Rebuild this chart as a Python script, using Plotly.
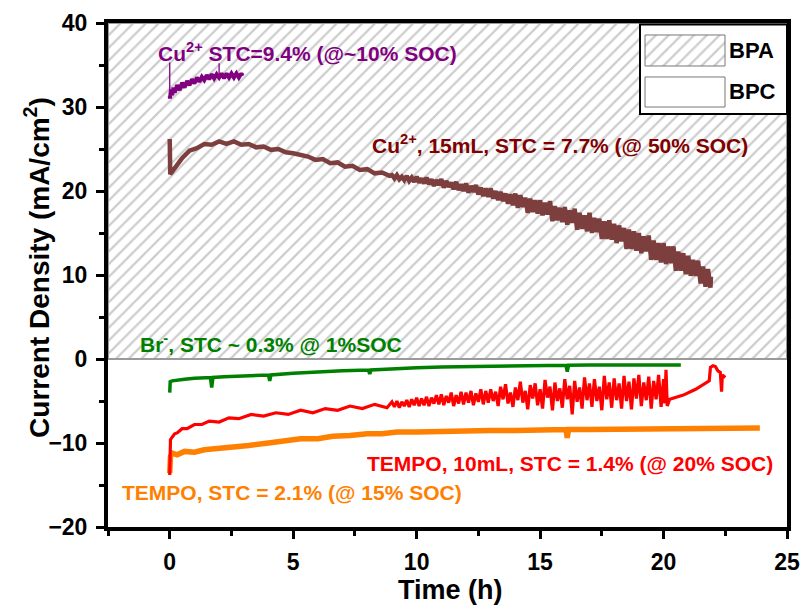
import plotly.graph_objects as go

# ---------------- data ----------------
cu_small_t = [0, 0.01, 0.05, 0.1, 0.15, 0.2, 0.3, 0.4, 0.5, 0.6, 0.7, 0.8, 0.9, 1.0, 1.1, 1.2,
              1.3, 1.4, 1.5, 1.6, 1.7, 1.8, 1.9, 2.0, 2.1, 2.2, 2.3, 2.4, 2.5, 2.6, 2.7, 2.8,
              2.9, 2.95]
cu_small_v = [31.3, 31.0, 32.1, 31.4, 32.3, 31.7, 32.6, 32.0, 32.9, 32.3, 33.1, 32.6, 33.3,
              32.8, 33.5, 33.0, 33.6, 33.2, 33.8, 33.3, 33.9, 33.4, 33.9, 33.5, 34.0, 33.4,
              34.0, 33.5, 34.0, 33.5, 34.0, 33.5, 34.0, 33.7]
# thin leader marks above the small Cu2+ curve: (time, bottom, top)
cu_small_marks_t = [0.0, 2.0]
cu_small_marks_lo = [31.6, 33.6]
cu_small_marks_hi = [35.3, 35.2]

cu15_t = [0, 0.02, 0.1, 0.3, 0.5, 0.8, 1.1, 1.4, 1.7, 2.0, 2.3, 2.6, 2.9, 3.2, 3.5, 3.8, 4.1,
          4.4, 4.7, 5.0, 5.3, 5.6, 5.9, 6.2, 6.5, 6.8, 7.1, 7.4, 7.7, 8.0, 8.3, 8.6, 8.9,
          9.0, 9.1, 9.2, 9.3, 9.4, 9.5, 9.6, 9.7, 9.8, 9.9,
          10.0, 10.1, 10.2, 10.3, 10.4, 10.5, 10.6, 10.7, 10.8, 10.9,
          11.0, 11.1, 11.2, 11.3, 11.4, 11.5, 11.6, 11.7, 11.8, 11.9,
          12.0, 12.1, 12.2, 12.3, 12.4, 12.5, 12.6, 12.7, 12.8, 12.9,
          13.0, 13.1, 13.2, 13.3, 13.4, 13.5, 13.6, 13.7, 13.8, 13.9,
          14.0, 14.1, 14.2, 14.3, 14.4, 14.5, 14.6, 14.7, 14.8, 14.9,
          15.0, 15.1, 15.2, 15.3, 15.4, 15.5, 15.6, 15.7, 15.8, 15.9,
          16.0, 16.1, 16.2, 16.3, 16.4, 16.5, 16.6, 16.7, 16.8, 16.9,
          17.0, 17.1, 17.2, 17.3, 17.4, 17.5, 17.6, 17.7, 17.8, 17.9,
          18.0, 18.1, 18.2, 18.3, 18.4, 18.5, 18.6, 18.7, 18.8, 18.9,
          19.0, 19.1, 19.2, 19.3, 19.4, 19.5, 19.6, 19.7, 19.8, 19.9,
          20.0, 20.1, 20.2, 20.3, 20.4, 20.5, 20.6, 20.7, 20.8, 20.9,
          21.0, 21.1, 21.2, 21.3, 21.4, 21.5, 21.6, 21.7, 21.8, 21.9, 21.92]
cu15_v = [26.2, 22.0, 22.3, 23.2, 23.9, 24.8, 25.1, 25.6, 25.5, 25.9, 25.6, 25.9, 25.5, 25.6,
          25.2, 25.3, 24.9, 25.0, 24.6, 24.5, 24.3, 24.1, 23.7, 23.8, 23.3, 23.4, 22.9, 23.0,
          22.5, 22.6, 22.1, 22.2, 21.8,
          21.9, 21.5, 21.9, 21.4, 21.7, 21.3, 21.8, 21.2, 21.6, 21.1,
          21.7, 21.0, 21.5, 20.9, 21.6, 20.8, 21.4, 20.6, 21.3, 20.7,
          21.4, 20.4, 21.2, 20.5, 21.0, 20.2, 21.1, 20.1, 20.8, 20.0,
          20.9, 19.8, 20.6, 19.9, 20.7, 19.6, 20.4, 19.4, 20.3, 19.3,
          20.3, 19.1, 20.0, 18.9, 19.9, 18.8, 19.7, 18.5, 19.6, 18.3,
          19.7, 18.0, 19.5, 18.1, 19.2, 17.4, 19.1, 17.5, 18.9, 17.3,
          18.9, 17.1, 18.6, 17.2, 18.8, 16.4, 18.2, 16.5, 18.0, 16.3,
          18.1, 16.0, 17.7, 16.2, 17.9, 15.4, 17.4, 15.5, 17.1, 15.2,
          17.4, 15.0, 16.8, 15.1, 16.7, 14.3, 16.4, 14.3, 16.5, 14.2,
          16.1, 13.8, 15.9, 14.0, 15.6, 13.1, 15.4, 13.1, 15.2, 12.9,
          15.0, 12.6, 14.6, 12.8, 14.7, 11.8, 14.1, 11.8, 13.8, 11.5,
          13.8, 11.3, 13.4, 11.4, 13.4, 10.5, 12.8, 10.5, 12.6, 10.1,
          12.3, 9.9, 11.8, 9.9, 11.7, 9.0, 11.0, 8.6, 10.7, 8.5, 9.8]

br_t = [0, 0.02, 0.1, 0.3, 0.6, 1.0, 1.65, 1.7, 1.75, 2.2, 3.0, 4.0, 4.05, 4.1, 5.0, 6.0, 7.0,
        8.05, 8.1, 8.15, 9.0, 10.0, 11.0, 12.0, 13.0, 14.0, 15.0, 16.05, 16.1, 16.15, 17.0,
        18.0, 19.0, 20.0, 20.7]
br_v = [-4.0, -2.7, -2.6, -2.5, -2.4, -2.3, -2.2, -3.4, -2.2, -2.1, -2.0, -1.9, -2.6, -1.9,
        -1.7, -1.5, -1.4, -1.3, -1.8, -1.3, -1.15, -1.05, -0.95, -0.9, -0.85, -0.8, -0.8,
        -0.75, -1.5, -0.75, -0.72, -0.7, -0.7, -0.7, -0.7]

tempo10_t = [0, 0.03, 0.1, 0.2, 0.3, 0.5, 0.7, 1.0, 1.3, 1.6, 2.0, 2.4, 2.8, 3.3, 3.8, 4.3,
             4.8, 5.3, 5.8, 6.3, 6.8, 7.3, 7.8, 8.3, 8.8,
             9.0, 9.1, 9.2, 9.3, 9.4, 9.5, 9.6, 9.7, 9.8, 9.9,
             10.0, 10.1, 10.2, 10.3, 10.4, 10.5, 10.6, 10.7, 10.8, 10.9,
             11.0, 11.1, 11.2, 11.3, 11.4, 11.5, 11.6, 11.7, 11.8, 11.9,
             12.0, 12.1, 12.2, 12.3, 12.4, 12.5, 12.6, 12.7, 12.8, 12.9,
             13.0, 13.1, 13.2, 13.3, 13.4, 13.5, 13.6, 13.7, 13.8, 13.9,
             14.0, 14.1, 14.2, 14.3, 14.4, 14.5, 14.6, 14.7, 14.8, 14.9,
             15.0, 15.1, 15.2, 15.3, 15.4, 15.5, 15.6, 15.7, 15.8, 15.9,
             16.0, 16.1, 16.2, 16.3, 16.4, 16.5, 16.6, 16.7, 16.8, 16.9,
             17.0, 17.1, 17.2, 17.3, 17.4, 17.5, 17.6, 17.7, 17.8, 17.9,
             18.0, 18.1, 18.2, 18.3, 18.4, 18.5, 18.6, 18.7, 18.8, 18.9,
             19.0, 19.1, 19.2, 19.3, 19.4, 19.5, 19.6, 19.7, 19.8, 19.9,
             20.0, 20.05, 20.1, 20.15, 20.25, 20.8, 21.3, 21.85, 21.9, 22.0, 22.1, 22.2,
             22.3, 22.35, 22.38, 22.5]
tempo10_v = [-13.8, -9.6, -9.3, -8.9, -8.8, -8.3, -8.3, -7.8, -7.8, -7.4, -7.5, -7.0, -7.1,
             -6.6, -6.8, -6.4, -6.6, -6.1, -6.4, -5.9, -6.1, -5.6, -5.9, -5.4, -5.8,
             -5.1, -5.7, -5.0, -5.8, -5.1, -5.6, -4.9, -5.7, -4.8, -5.5,
             -4.6, -5.6, -4.7, -5.5, -4.5, -5.6, -4.6, -5.3, -4.3, -5.4,
             -4.2, -5.5, -4.4, -5.2, -4.0, -5.6, -4.3, -5.3, -3.9, -5.4,
             -4.0, -5.2, -3.8, -5.5, -4.1, -5.1, -3.6, -5.4, -3.8, -5.2,
             -3.6, -5.0, -3.9, -5.6, -3.3, -4.8, -3.0, -5.3, -4.0, -5.7,
             -3.4, -4.9, -2.7, -5.2, -3.8, -6.0, -3.1, -4.7, -2.9, -5.5,
             -3.6, -5.9, -2.5, -4.6, -3.3, -6.1, -2.8, -5.0, -3.5, -5.8,
             -2.4, -4.8, -3.2, -6.6, -2.6, -5.1, -3.4, -5.9, -2.2, -4.9,
             -2.9, -5.7, -2.4, -5.0, -3.3, -6.1, -2.0, -4.8, -2.8, -5.8,
             -2.3, -4.9, -2.9, -5.9, -2.0, -5.0, -2.7, -6.0, -2.3, -4.7,
             -1.9, -5.6, -2.8, -4.9, -2.1, -5.9, -2.6, -4.8, -1.9, -5.7,
             -2.4, -5.3, -1.3, -5.6, -4.8, -4.3, -3.6, -2.6, -1.0, -0.8, -0.9, -1.4,
             -1.6, -3.9, -1.9, -2.2]

tempo_t = [0, 0.03, 0.1, 0.3, 0.6, 1.0, 1.4, 1.9, 2.4, 3.2, 4.0, 4.7, 5.3, 6.0, 6.6, 7.3, 8.0,
           8.6, 9.2, 10.0, 11.0, 12.0, 13.0, 14.0, 15.0, 16.05, 16.1, 16.15, 17.0, 18.0,
           19.0, 20.0, 21.0, 22.0, 23.0, 23.9]
tempo_v = [-13.6, -11.6, -11.2, -11.4, -11.0, -11.1, -10.8, -10.7, -10.5, -10.3, -10.0, -9.8,
           -9.5, -9.5, -9.2, -9.1, -8.9, -8.9, -8.7, -8.7, -8.6, -8.6, -8.5, -8.5, -8.45,
           -8.4, -9.4, -8.4, -8.4, -8.35, -8.3, -8.3, -8.3, -8.25, -8.2, -8.2]

X_RANGE = [-2.5, 25]
Y_RANGE = [-20, 40]
x_ticks = [0, 5, 10, 15, 20, 25]
y_ticks = [-20, -10, 0, 10, 20, 30, 40]

FONT = "Arial, Liberation Sans, sans-serif"

# ---------------- figure ----------------
fig = go.Figure()

# BPA region (hatched, above zero)
fig.add_trace(go.Scatter(
    x=[X_RANGE[0], X_RANGE[1], X_RANGE[1], X_RANGE[0], X_RANGE[0]],
    y=[0, 0, Y_RANGE[1], Y_RANGE[1], 0],
    mode="lines", fill="toself", fillcolor="white",
    fillpattern=dict(shape="/", fgcolor="#999999", bgcolor="white", size=9, solidity=0.25),
    line=dict(color="#9a9a9a", width=2), hoverinfo="skip", showlegend=False))

# leader marks of small Cu2+ curve
lead_x, lead_y = [], []
for mt, lo, hi in zip(cu_small_marks_t, cu_small_marks_lo, cu_small_marks_hi):
    lead_x += [mt, mt, None]
    lead_y += [lo, hi, None]
fig.add_trace(go.Scatter(x=lead_x, y=lead_y, mode="lines",
                         line=dict(color="#800080", width=1.3), showlegend=False))

series = [
    (cu_small_t, cu_small_v, "#800080", 4),
    (cu15_t, cu15_v, "#7d3e3e", 4.5),
    (tempo_t, tempo_v, "#ff8000", 5.5),
    (tempo10_t, tempo10_v, "#ff0000", 3.2),
    (br_t, br_v, "#008000", 3.5),
]
for t, v, c, w in series:
    fig.add_trace(go.Scatter(x=t, y=v, mode="lines", line=dict(color=c, width=w),
                             showlegend=False))

axis_common = dict(
    showgrid=False, zeroline=False, showline=True, linecolor="black", linewidth=4,
    mirror=True, ticks="outside", ticklen=8, tickwidth=3, tickcolor="black",
    automargin=False,
    tickfont=dict(family=FONT, size=23, color="black", weight="bold"),
)
fig.update_xaxes(range=X_RANGE, tickvals=x_ticks, ticklabelstandoff=3,
                 minor=dict(dtick=2.5, tick0=0, ticks="outside", ticklen=5, tickwidth=3,
                            tickcolor="black"),
                 **axis_common)
fig.update_yaxes(range=Y_RANGE, tickvals=y_ticks, ticklabelstandoff=4,
                 minor=dict(dtick=5, tick0=0, ticks="outside", ticklen=5, tickwidth=3,
                            tickcolor="black"),
                 **axis_common)

# axis titles (as annotations for exact placement)
fig.add_annotation(xref="paper", yref="paper", x=0.5037, y=-0.125, text="Time (h)",
                   showarrow=False, xanchor="center", yanchor="middle",
                   font=dict(family=FONT, size=27, color="black", weight="bold"))
fig.add_annotation(xref="paper", yref="paper", x=-0.1046, y=0.516,
                   text="Current Density (mA/cm<sup>2</sup>)", textangle=-90,
                   showarrow=False, xanchor="center", yanchor="middle",
                   font=dict(family=FONT, size=28, color="black", weight="bold"))

ann_font = lambda c: dict(family=FONT, size=21, color=c, weight="bold")
annotations = [
    dict(x=-0.55, y=36.6, text="Cu<sup>2+</sup> STC=9.4% (@~10% SOC)", font=ann_font("#800080")),
    dict(x=8.1, y=25.6, text="Cu<sup>2+</sup>, 15mL, STC = 7.7% (@ 50% SOC)", font=ann_font("#800000")),
    dict(x=-1.3, y=1.9, text="Br<sup>-</sup>, STC ~ 0.3% @ 1%SOC", font=ann_font("#008000")),
    dict(x=7.9, y=-12.4, text="TEMPO, 10mL, STC = 1.4% (@ 20% SOC)", font=ann_font("#ff0000")),
    dict(x=-2.0, y=-15.9, text="TEMPO, STC = 2.1% (@ 15% SOC)", font=ann_font("#ff8000")),
]
for a in annotations:
    fig.add_annotation(xref="x", yref="y", xanchor="left", yanchor="middle",
                       showarrow=False, **a)

# ---------------- legend box (BPA hatched, BPC white) ----------------
bx0, bx1, by0, by1 = 0.7835, 1.0, 0.8195, 0.997
pa = (0.7909, 0.9087, 0.9147, 0.9762)
pc = (0.7909, 0.9087, 0.8333, 0.8929)
hole_path = (f"M {bx0},{by0} L {bx1},{by0} L {bx1},{by1} L {bx0},{by1} Z "
             f"M {pa[0]},{pa[2]} L {pa[1]},{pa[2]} L {pa[1]},{pa[3]} L {pa[0]},{pa[3]} Z")
fig.add_shape(type="path", path=hole_path, xref="paper", yref="paper", fillcolor="white",
              fillrule="evenodd", line=dict(width=0), layer="above")
fig.add_shape(type="rect", xref="paper", yref="paper", x0=bx0, x1=bx1, y0=by0, y1=by1,
              line=dict(color="black", width=2), fillcolor="rgba(0,0,0,0)", layer="above")
fig.add_shape(type="rect", xref="paper", yref="paper", x0=pa[0], x1=pa[1], y0=pa[2], y1=pa[3],
              line=dict(color="#777777", width=1), fillcolor="rgba(0,0,0,0)", layer="above")
fig.add_shape(type="rect", xref="paper", yref="paper", x0=pc[0], x1=pc[1], y0=pc[2], y1=pc[3],
              line=dict(color="#777777", width=1), fillcolor="white", layer="above")
for label, yc in (("BPA", (pa[2] + pa[3]) / 2), ("BPC", (pc[2] + pc[3]) / 2)):
    fig.add_annotation(xref="paper", yref="paper", x=0.912, y=yc, xanchor="left",
                       yanchor="middle", text=label, showarrow=False,
                       font=dict(family=FONT, size=22, color="black", weight="bold"))

fig.update_layout(
    width=806, height=606,
    margin=dict(l=108, r=19, t=23, b=79, autoexpand=False),
    plot_bgcolor="white", paper_bgcolor="white",
    showlegend=False,
)

fig.write_html("out.html")
